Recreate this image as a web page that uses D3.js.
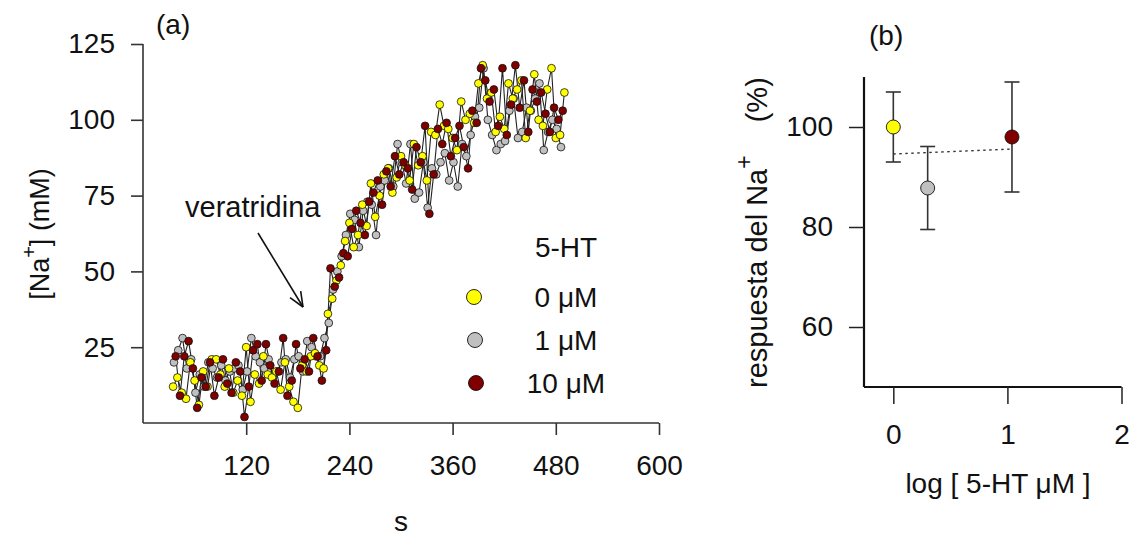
<!DOCTYPE html>
<html><head><meta charset="utf-8">
<script src="https://cdn.jsdelivr.net/npm/d3@7"></script>
<style>
body{margin:0;background:#fff;}
svg text{font-family:"Liberation Sans",Arial,sans-serif;fill:#111;}
</style></head>
<body>
<svg id="c" width="1133" height="536"></svg>
<script>
// ---------- Panel (a) data ----------
const timeY = d3.range(35, 491, 5);       // 0 µM sample times (s)
const timeG = d3.range(36, 487, 5);       // 1 µM sample times
const timeR = d3.range(38, 489, 5);       // 10 µM sample times
const na0 = [12,15,10,8,20,14,6,17,12,21,21,16,12,18,10,14,9,25,7,16,13,22,16,15,17,11,20,12,7,5,19,17,22,23,19,18,
  36,41,47,52,60,66,58,62,72,65,79,68,75,82,84,76,81,88,85,80,92,85,88,80,96,95,105,98,97,94,90,106,100,102,99,112,
  118,107,109,96,101,97,112,107,110,113,94,103,115,100,98,110,117,94,95,109];
const na1 = [20,24,28,18,21,10,16,12,20,18,15,19,14,17,18,19,11,17,28,22,20,18,21,15,17,20,21,15,21,22,17,27,25,22,22,28,
  33,44,50,55,62,69,67,58,70,73,72,62,78,80,84,78,92,86,79,92,74,76,86,71,84,82,86,89,80,86,78,92,88,95,101,104,
  117,100,95,90,92,93,103,107,94,96,104,103,107,112,90,96,100,97,91];
const na10 = [22,9,22,27,18,5,15,12,20,9,15,21,13,10,20,17,2,12,24,26,14,26,19,13,17,28,9,14,26,18,21,17,28,22,14,24,
  51,45,48,56,55,64,70,66,62,73,76,80,72,83,78,88,82,86,84,77,91,86,98,69,82,97,92,99,88,94,98,91,84,103,99,117,
  113,106,110,98,117,95,105,118,104,113,96,110,106,109,102,96,104,100,103];
const xTicksA = [120, 240, 360, 480, 600];
const yTicksA = [25, 50, 75, 100, 125];
const legendLabels = ["0 μM", "1 μM", "10 μM"];
const colors = ["#ffff00", "#c0c0c0", "#800000"];

// ---------- Panel (b) data ----------
const logDose = [0, 0.301, 1.04];
const resp = [100, 87.8, 98];
const respErr = [7, 8.3, 11];
const fitX = [0, 1.04];
const fitY = [94.6, 95.6];
const xTicksB = [0, 1, 2];
const yTicksB = [60, 80, 100];

const svg = d3.select("#c");
const FS = 28;
const FF = '"Liberation Sans",Arial,sans-serif';

// ================= Panel (a) =================
const xA = d3.scaleLinear().domain([0, 600]).range([143, 659]);
const yA = d3.scaleLinear().domain([0, 125]).range([423, 44]);

const gA = svg.append("g");
const axA = d3.axisBottom(xA).tickValues(xTicksA).tickSize(12).tickPadding(20).tickFormat(d3.format("d"));
const gxA = gA.append("g").attr("transform", "translate(0,423)").call(axA);
const ayA = d3.axisLeft(yA).tickValues(yTicksA).tickSize(12).tickPadding(16).tickFormat(d3.format("d"));
const gyA = gA.append("g").attr("transform", "translate(143,0)").call(ayA);
[gxA, gyA].forEach(g => {
  g.select(".domain").attr("stroke", "#333").attr("stroke-width", 1.6);
  g.selectAll(".tick line").attr("stroke", "#333").attr("stroke-width", 1.6);
  g.selectAll(".tick text").attr("font-size", FS).attr("fill", "#111").attr("font-family", FF);
});
gxA.select(".domain").attr("d", `M${xA(0)},0H${xA(600)}`);
gyA.select(".domain").attr("d", `M0,${yA(0)}V${yA(125)}`);

const seriesA = [
  {t: timeG, v: na1, c: colors[1]},
  {t: timeY, v: na0, c: colors[0]},
  {t: timeR, v: na10, c: colors[2]}
];
const line = d3.line();
seriesA.forEach(s => {
  const pts = s.t.slice(0, s.v.length).map((t, i) => [xA(t), yA(s.v[i])]);
  gA.append("path").attr("d", line(pts)).attr("fill", "none").attr("stroke", "#222").attr("stroke-width", 1.1);
});
seriesA.forEach(s => {
  const pts = s.t.slice(0, s.v.length).map((t, i) => [xA(t), yA(s.v[i])]);
  gA.append("g").selectAll("circle").data(pts).join("circle")
    .attr("cx", d => d[0]).attr("cy", d => d[1]).attr("r", 3.9)
    .attr("fill", s.c).attr("stroke", "#111").attr("stroke-width", 0.8);
});

// labels
gA.append("text").attr("x", 156).attr("y", 34).attr("font-size", 28).text("(a)");
const yl = gA.append("text").attr("transform", "translate(49,234) rotate(-90)")
  .attr("text-anchor", "middle").attr("font-size", 27);
yl.append("tspan").text("[Na");
yl.append("tspan").attr("dy", -13).attr("font-size", 20).text("+");
yl.append("tspan").attr("dy", 13).text("] (mM)");
gA.append("text").attr("x", 401).attr("y", 531).attr("text-anchor", "middle").attr("font-size", FS).text("s");

// arrow
gA.append("text").attr("x", 185).attr("y", 217).attr("font-size", 29).text("veratridina");
const a0 = [258, 233], a1 = [303, 307];
gA.append("line").attr("x1", a0[0]).attr("y1", a0[1]).attr("x2", a1[0]).attr("y2", a1[1])
  .attr("stroke", "#111").attr("stroke-width", 1.6);
const ang = Math.atan2(a1[1] - a0[1], a1[0] - a0[0]);
[0.4, -0.4].forEach(da => {
  gA.append("line").attr("x1", a1[0]).attr("y1", a1[1])
    .attr("x2", a1[0] - 16 * Math.cos(ang + da)).attr("y2", a1[1] - 16 * Math.sin(ang + da))
    .attr("stroke", "#111").attr("stroke-width", 1.6);
});

// legend
gA.append("text").attr("x", 566).attr("y", 257).attr("text-anchor", "middle").attr("font-size", FS).text("5-HT");
legendLabels.forEach((lab, i) => {
  const cy = 297 + i * 43;
  gA.append("circle").attr("cx", 474 + i).attr("cy", cy).attr("r", 7.5)
    .attr("fill", colors[i]).attr("stroke", "#111").attr("stroke-width", 0.9);
  gA.append("text").attr("x", 566).attr("y", cy + 10).attr("text-anchor", "middle").attr("font-size", FS).text(lab);
});

// ================= Panel (b) =================
const xB = d3.scaleLinear().domain([-0.257, 2]).range([864, 1121.5]);
const yB = d3.scaleLinear().domain([48, 110]).range([387, 77]);
const gB = svg.append("g");
const axB = d3.axisBottom(xB).tickValues(xTicksB).tickSize(17).tickPadding(20).tickFormat(d3.format("d"));
const gxB = gB.append("g").attr("transform", "translate(0,387)").call(axB);
const ayB = d3.axisLeft(yB).tickValues(yTicksB).tickSize(15).tickPadding(16).tickFormat(d3.format("d"));
const gyB = gB.append("g").attr("transform", "translate(864,0)").call(ayB);
[gxB, gyB].forEach(g => {
  g.select(".domain").attr("stroke", "#111").attr("stroke-width", 2.2);
  g.selectAll(".tick line").attr("stroke", "#222").attr("stroke-width", 1.5);
  g.selectAll(".tick text").attr("font-size", FS).attr("fill", "#111").attr("font-family", FF);
});
gxB.select(".domain").attr("d", `M${xB(-0.257)},0H${xB(2)}`);
gyB.select(".domain").attr("d", `M0,${yB(48)}V${yB(110)}`);

// fit line
gB.append("path").attr("d", line(fitX.map((x, i) => [xB(x), yB(fitY[i])])))
  .attr("fill", "none").attr("stroke", "#333").attr("stroke-width", 1.4).attr("stroke-dasharray", "2.5,3.5");
// error bars
logDose.forEach((x, i) => {
  const cx = xB(x);
  gB.append("line").attr("x1", cx).attr("x2", cx).attr("y1", yB(resp[i] - respErr[i])).attr("y2", yB(resp[i] + respErr[i]))
    .attr("stroke", "#333").attr("stroke-width", 1.6);
  [resp[i] - respErr[i], resp[i] + respErr[i]].forEach(v => {
    gB.append("line").attr("x1", cx - 7.5).attr("x2", cx + 7.5).attr("y1", yB(v)).attr("y2", yB(v))
      .attr("stroke", "#333").attr("stroke-width", 1.6);
  });
  gB.append("circle").attr("cx", cx).attr("cy", yB(resp[i])).attr("r", 7)
    .attr("fill", colors[i]).attr("stroke", "#111").attr("stroke-width", 0.9);
});
gB.append("text").attr("x", 869).attr("y", 45).attr("font-size", 28).text("(b)");
gB.append("text").attr("x", 998).attr("y", 493).attr("text-anchor", "middle").attr("font-size", FS).text("log [ 5-HT μM ]");
const yl2 = gB.append("text").attr("transform", "translate(767,388) rotate(-90)")
  .attr("text-anchor", "start").attr("font-size", 29);
yl2.append("tspan").text("respuesta del Na");
yl2.append("tspan").attr("dy", -15).attr("font-size", 23).text("+");
yl2.append("tspan").attr("dy", 15).attr("dx", 33).text("(%)");
</script>
</body></html>
